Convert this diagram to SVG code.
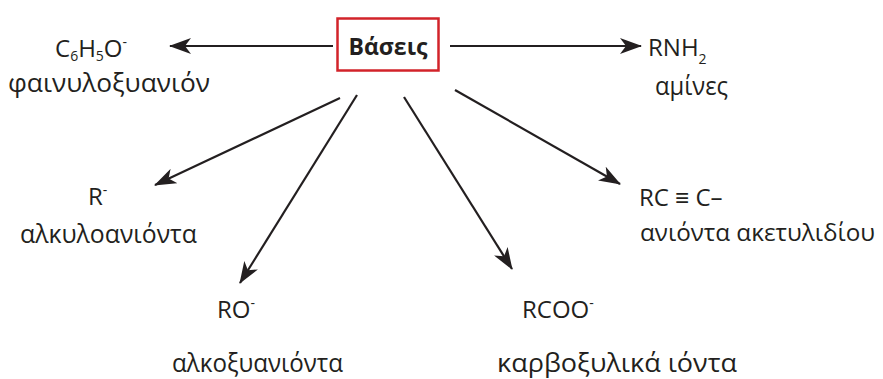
<svg xmlns="http://www.w3.org/2000/svg" width="883" height="379" viewBox="0 0 883 379">
<style>
text{font-family:"Open Sans","Noto Sans",sans-serif;fill:#231f20}
.f{font-size:24px}
.g{font-size:26px}
.s{font-size:14px}
.c line{stroke:#231f20;stroke-width:2.2}
</style>
<defs>
<marker id="a" viewBox="0 0 22 16" refX="21" refY="8" markerWidth="22" markerHeight="16" markerUnits="userSpaceOnUse" orient="auto">
<path d="M0,0 L22,8 L0,16 L6,8 Z" fill="#231f20"/>
</marker>
</defs>
<rect width="883" height="379" fill="#fff"/>
<g id="center">
<rect x="337.5" y="18.5" width="101" height="52" fill="none" stroke="#d2232a" stroke-width="2.5"/>
<text x="388" y="55" text-anchor="middle" style="font-size:23px;font-weight:bold">Βάσεις</text>
</g>
<g class="c" id="connectors">
<line x1="333" y1="46" x2="170" y2="46" marker-end="url(#a)"/>
<line x1="450" y1="46" x2="641" y2="46" marker-end="url(#a)"/>
<line x1="340" y1="98" x2="155" y2="185" marker-end="url(#a)"/>
<line x1="357" y1="95" x2="240" y2="283" marker-end="url(#a)"/>
<line x1="404" y1="97" x2="512" y2="269" marker-end="url(#a)"/>
<line x1="455" y1="90" x2="620" y2="184" marker-end="url(#a)"/>
</g>
<g id="phenoxide">
<text class="f" x="55" y="57">C<tspan class="s" dy="4">6</tspan><tspan dy="-4">H</tspan><tspan class="s" dy="4">5</tspan><tspan dy="-4">O</tspan><tspan class="s" dy="-10">-</tspan></text>
<text class="g" x="8" y="92" textLength="202" lengthAdjust="spacingAndGlyphs">φαινυλοξυανιόν</text>
</g>
<g id="amines">
<text class="f" x="648" y="56">RNH<tspan class="s" dy="8">2</tspan></text>
<text class="g" x="655" y="95" textLength="73" lengthAdjust="spacingAndGlyphs">αμίνες</text>
</g>
<g id="alkyl">
<text class="f" x="88" y="205">R<tspan class="s" dy="-10">-</tspan></text>
<text class="g" x="20" y="243" textLength="177" lengthAdjust="spacingAndGlyphs">αλκυλοανιόντα</text>
</g>
<g id="alkoxide">
<text class="f" x="217" y="318">RO<tspan class="s" dy="-10">-</tspan></text>
<text class="g" x="172" y="372" textLength="171" lengthAdjust="spacingAndGlyphs">αλκοξυανιόντα</text>
</g>
<g id="carboxylate">
<text class="f" x="522" y="318">RCOO<tspan class="s" dy="-10">-</tspan></text>
<text class="g" x="497" y="372" textLength="240" lengthAdjust="spacingAndGlyphs">καρβοξυλικά ιόντα</text>
</g>
<g id="acetylide">
<text class="f" x="639" y="206">RC ≡ C–</text>
<text x="640" y="241" textLength="235" lengthAdjust="spacingAndGlyphs" style="font-size:24px">ανιόντα ακετυλιδίου</text>
</g>
</svg>
